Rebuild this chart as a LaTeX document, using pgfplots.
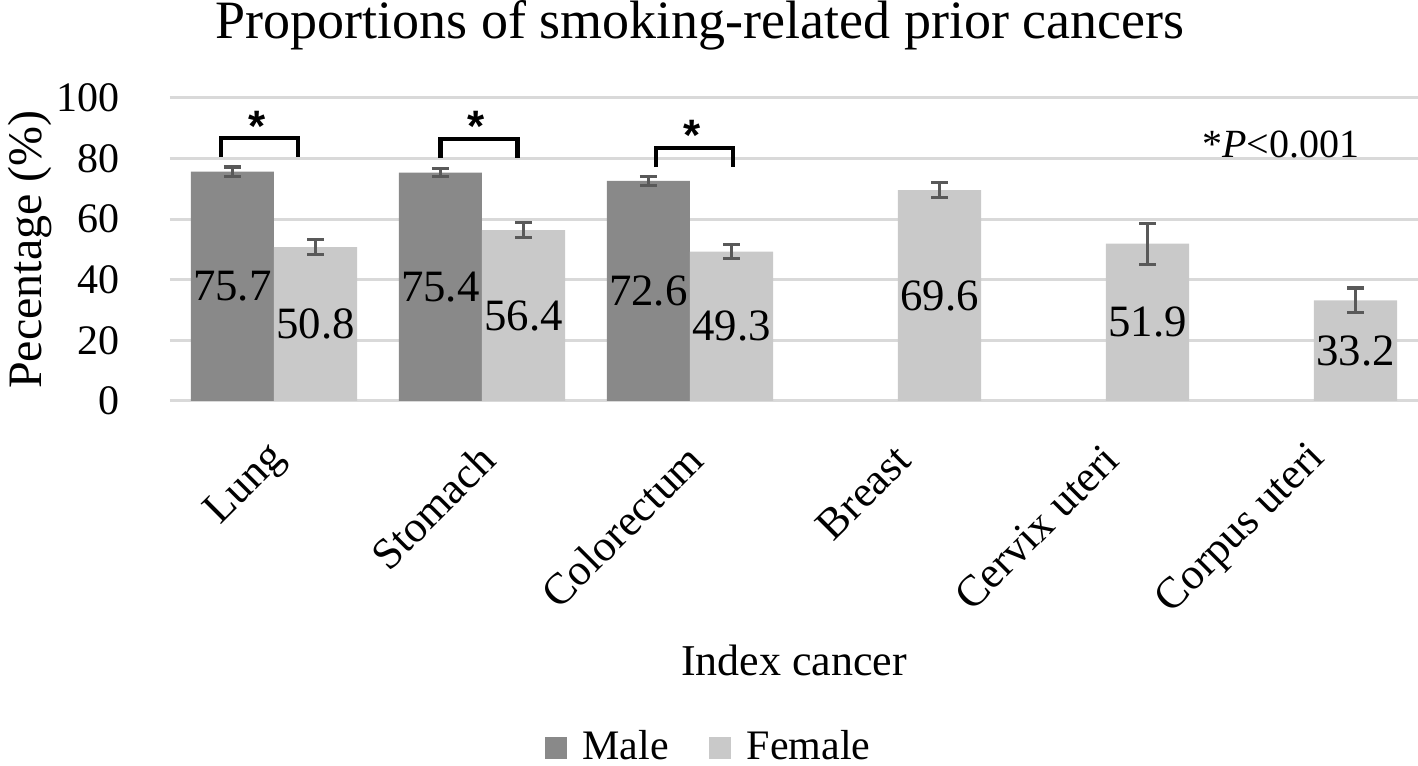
\documentclass[border=0pt]{standalone}
\usepackage{pgfplots}
\pgfplotsset{compat=1.18}
\usepackage{pgfplotstable}
\usepackage{fontspec}
\setmainfont{Liberation Serif}
\newfontfamily\sansfont{Liberation Sans}
\definecolor{malec}{HTML}{898989}
\definecolor{femalec}{HTML}{C9C9C9}
\definecolor{gridc}{HTML}{D9D9D9}
\definecolor{errc}{HTML}{595959}

\pgfplotstableread{
x y e
0 75.7 1.5
1 75.4 1.3
2 72.6 1.5
}\maletable
\pgfplotstableread{
x y e
0 50.8 2.5
1 56.4 2.5
2 49.3 2.3
3 69.6 2.4
4 51.9 6.8
5 33.2 4.1
}\femaletable

\begin{document}
\begin{tikzpicture}
\begin{axis}[
  ybar,
  scale only axis,
  width=312pt, height=75.75pt,
  xmin=-0.5, xmax=5.5, ymin=0, ymax=100,
  ytick={0,20,40,60,80,100},
  xtick={0,1,2,3,4,5},
  xticklabels={Lung,Stomach,Colorectum,Breast,Cervix uteri,Corpus uteri},
  ymajorgrids,
  grid style={color=gridc, line width=0.75pt},
  axis line style={draw=none},
  major tick length=0pt,
  /pgf/number format/assume math mode=true,
  yticklabel style={font=\fontsize{10.5}{12}\selectfont, anchor=east, xshift=-9pt},
  xticklabel style={font=\fontsize{11}{13}\selectfont, xshift=1.5pt, yshift=-12.75pt, rotate=45, anchor=east, inner sep=0pt},
  ylabel={Pecentage (\%)},
  ylabel style={at={(axis description cs:0,0.5)}, anchor=center, yshift=35pt, font=\fontsize{12}{14}\selectfont},
  xlabel={Index cancer},
  xlabel style={at={(axis description cs:0.5,0)}, anchor=center, yshift=-64.75pt, font=\fontsize{11}{13}\selectfont},
  title={Proportions of smoking-related prior cancers},
  title style={at={(axis description cs:0.4247,1)}, anchor=center, yshift=12.25pt, font=\fontsize{13.5}{15}\selectfont},
  legend style={at={(rel axis cs:0.434,-1.145)}, anchor=center, draw=none, legend columns=2,
    font=\fontsize{10.5}{12}\selectfont,
    /tikz/every odd column/.append style={column sep=2pt},
    /tikz/every even column/.append style={column sep=8pt}},
  legend image code/.code={\fill[#1] (0pt,-2.75pt) rectangle (5.5pt,2.75pt);},
  bar width=0.4,
  error bars/error bar style={color=errc, line width=0.8pt},
  error bars/error mark options={color=errc, line width=0.8pt, mark size=2.1pt, rotate=90},
  nodes near coords,
  point meta=explicit symbolic,
  visualization depends on={\thisrow{y} \as \rawy},
  every node near coord/.style={anchor=center, font=\fontsize{11.2}{13}\selectfont, text=black, yshift={-0.37875pt*\rawy}},
]
\addplot[bar shift=-0.2, fill=malec, draw=none,
  every node near coord/.append style={xshift=-10.4pt},
  error bars/.cd, y dir=both, y explicit]
  table[x=x, y=y, y error=e, meta=y] {\maletable};
\addlegendentry{Male}
\addplot[bar shift=0.2, fill=femalec, draw=none,
  every node near coord/.append style={xshift=10.4pt},
  error bars/.cd, y dir=both, y explicit]
  table[x=x, y=y, y error=e, meta=y] {\femaletable};
\addlegendentry{Female}

% significance brackets
\draw[line width=1.1pt] (axis cs:-0.255,80.5) -- (axis cs:-0.255,86.8) -- (axis cs:0.115,86.8) -- (axis cs:0.115,80.5);
\draw[line width=1.1pt] (axis cs:0.8,80.3) -- (axis cs:0.8,86.5) -- (axis cs:1.17,86.5) -- (axis cs:1.17,80.3);
\draw[line width=1.1pt] (axis cs:1.837,77.2) -- (axis cs:1.837,83.5) -- (axis cs:2.207,83.5) -- (axis cs:2.207,77.2);
\node[font=\sansfont\bfseries\fontsize{11}{13}\selectfont] at (axis cs:-0.08,90.5) {*};
\node[font=\sansfont\bfseries\fontsize{11}{13}\selectfont] at (axis cs:0.97,90.5) {*};
\node[font=\sansfont\bfseries\fontsize{11}{13}\selectfont] at (axis cs:2.01,87.5) {*};
\node[font=\fontsize{10}{12}\selectfont] at (axis cs:4.84,84.5) {*\textit{P}<0.001};
\end{axis}
\pgfresetboundingbox
\path (current axis.south west) ++(-42.5pt,-91.25pt) rectangle ++(354.5pt,191.5pt);
\end{tikzpicture}
\end{document}
